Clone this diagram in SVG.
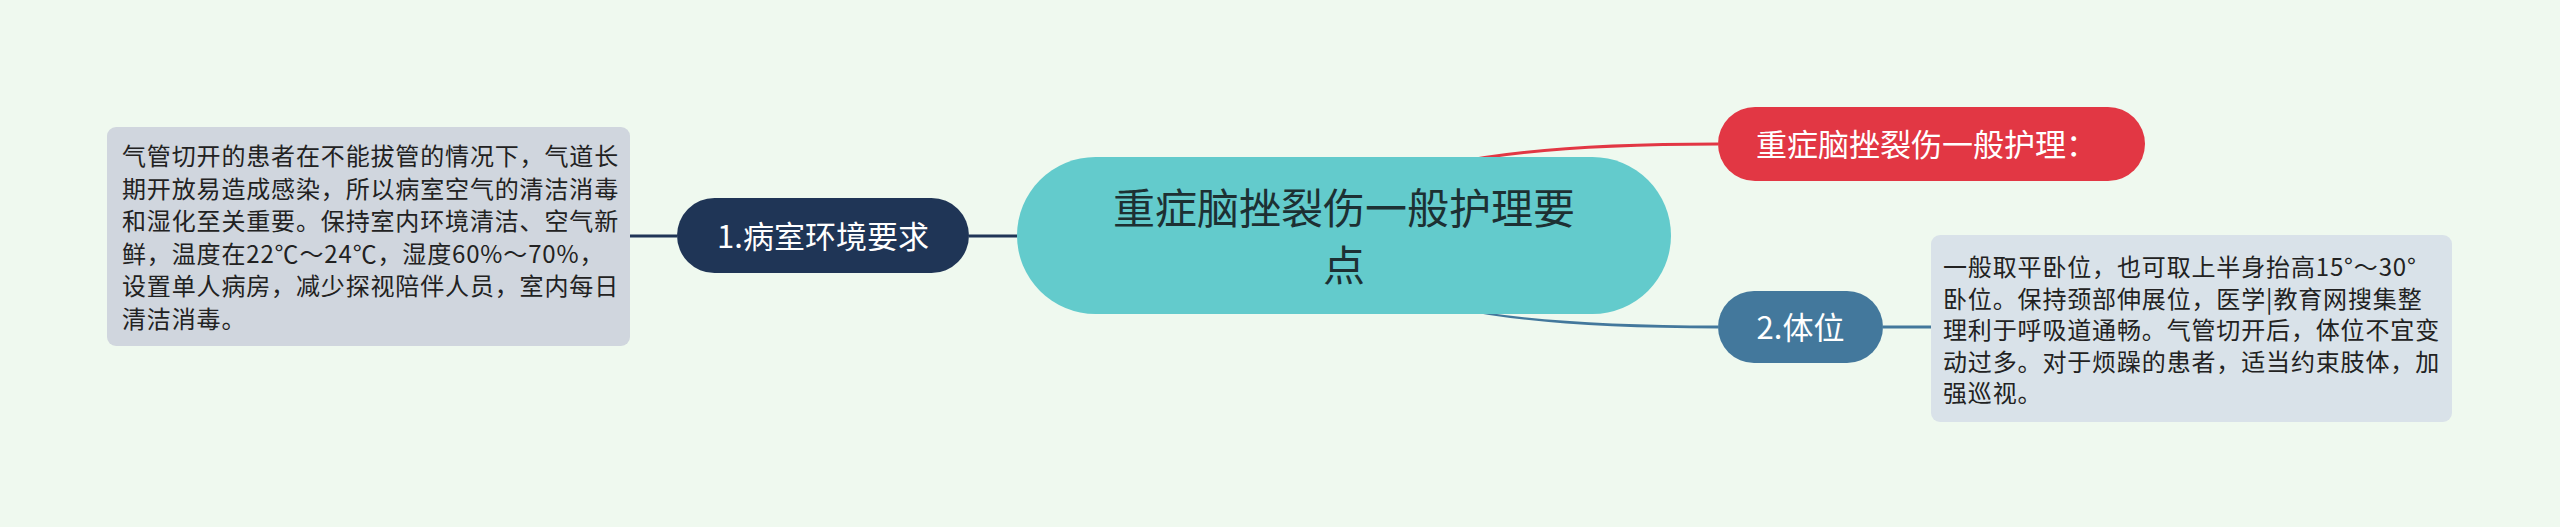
<svg xmlns="http://www.w3.org/2000/svg" width="2560" height="527" viewBox="0 0 2560 527">
<style>
.cjk{font-family:"Noto Sans CJK SC","Noto Sans",sans-serif;}
.detail{font-size:24px;letter-spacing:0.85px;fill:#222222;}
.l1{font-size:31px;fill:#ffffff;}
.root{font-size:42px;fill:#1d3033;}
</style>
<rect x="0" y="0" width="2560" height="527" fill="#eff9ef"/>
<g id="connectors">
<line x1="630" y1="236" x2="677" y2="236" stroke="#1f3556" stroke-width="3"/>
<line x1="969" y1="236" x2="1017" y2="236" stroke="#1f3556" stroke-width="3"/>
<path d="M1340 235 Q1340 142.5 1718 142.5 L1718 145.5 Q1346 145.5 1346 235 Z" fill="#e23744"/>
<path d="M1340 235 Q1340 325.5 1718 325.5 L1718 328.5 Q1346 328.5 1346 235 Z" fill="#43789c"/>
<line x1="1883" y1="327" x2="1931" y2="327" stroke="#43789c" stroke-width="3"/>
</g>
<g id="root">
<rect x="1017" y="157" width="654" height="157" rx="78.5" fill="#63cbcc"/>
<text class="cjk root" x="1344" y="224" text-anchor="middle">重症脑挫裂伤一般护理要</text>
<text class="cjk root" x="1344" y="281" text-anchor="middle">点</text>
</g>
<g id="node-env">
<rect x="677" y="198" width="292" height="75" rx="37.5" fill="#1f3556"/>
<text class="cjk l1" x="823" y="248" text-anchor="middle">1.病室环境要求</text>
</g>
<g id="node-env-detail">
<rect x="107" y="127" width="523" height="219" rx="9" fill="#d0d6de"/>
<text class="cjk detail" x="122" y="165">气管切开的患者在不能拔管的情况下，气道长</text>
<text class="cjk detail" x="122" y="197.5">期开放易造成感染，所以病室空气的清洁消毒</text>
<text class="cjk detail" x="122" y="230">和湿化至关重要。保持室内环境清洁、空气新</text>
<text class="cjk detail" x="122" y="262.5">鲜，温度在22℃～24℃，湿度60%～70%，</text>
<text class="cjk detail" x="122" y="295">设置单人病房，减少探视陪伴人员，室内每日</text>
<text class="cjk detail" x="122" y="327.5">清洁消毒。</text>
</g>
<g id="node-general">
<rect x="1718" y="107" width="427" height="74" rx="37" fill="#e23744"/>
<text class="cjk l1" x="1756" y="156">重症脑挫裂伤一般护理：</text>
</g>
<g id="node-position">
<rect x="1718" y="291" width="165" height="72" rx="36" fill="#43789c"/>
<text class="cjk l1" x="1800.5" y="339" text-anchor="middle">2.体位</text>
</g>
<g id="node-position-detail">
<rect x="1931" y="235" width="521" height="187" rx="9" fill="#d9e2e9"/>
<text class="cjk detail" x="1943" y="276">一般取平卧位，也可取上半身抬高15°～30°</text>
<text class="cjk detail" x="1943" y="307.5">卧位。保持颈部伸展位，医学|教育网搜集整</text>
<text class="cjk detail" x="1943" y="339">理利于呼吸道通畅。气管切开后，体位不宜变</text>
<text class="cjk detail" x="1943" y="370.5">动过多。对于烦躁的患者，适当约束肢体，加</text>
<text class="cjk detail" x="1943" y="402">强巡视。</text>
</g>
</svg>
